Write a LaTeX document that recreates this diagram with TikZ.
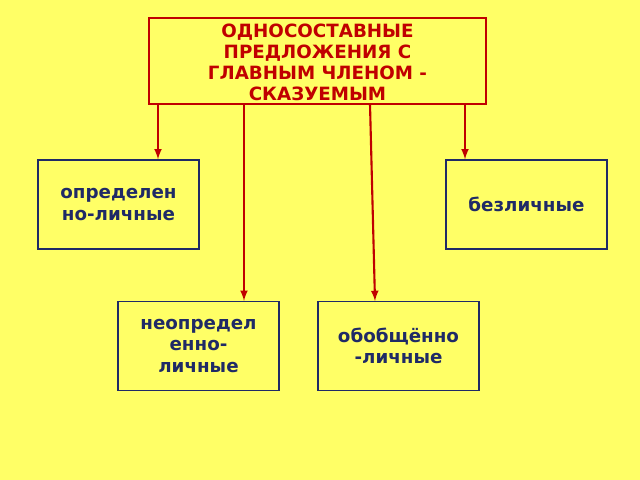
\documentclass[tikz,border=0pt]{standalone}
\usepackage{fontspec}
\setmainfont{DejaVu Sans}
\definecolor{bg}{HTML}{FFFF66}
\definecolor{hred}{HTML}{C00000}
\definecolor{navy}{HTML}{1F2A66}
\begin{document}
\begin{tikzpicture}[x=0.025cm,y=-0.025cm,font=\bfseries\fontsize{13}{15}\selectfont]
\tikzset{
% box styles: title and kinds
title box/.style={draw=hred,line width=1pt,text=hred,minimum width=337*0.025cm,minimum height=86*0.025cm,align=center,inner sep=0pt},
kind box/.style={draw=navy,line width=1pt,text=navy,minimum width=161*0.025cm,minimum height=89*0.025cm,align=center,inner sep=0pt},
link/.style={hred,line width=1.5pt,-latex}
}
\fill[bg] (0,0) rectangle (640,480);
\useasboundingbox (0,0) rectangle (640,480);

% The title
\node (title)[title box] at (317.5,61) {};
\node[text=hred,align=center] at (317.5,62) {ОДНОСОСТАВНЫЕ\\ПРЕДЛОЖЕНИЯ С\\ГЛАВНЫМ ЧЛЕНОМ -\\СКАЗУЕМЫМ};

% The kinds
\node (def)[kind box] at (118.5,204.5) {определен\\но-личные};
\node (imp)[kind box] at (526.5,204.5) {безличные};
\node (indef)[kind box] at (198.5,346) {неопредел\\енно-\\личные};
\node (gen)[kind box] at (398.5,346) {обобщённо\\-личные};

% links
\coordinate (t1) at (158,104); \coordinate (t2) at (244,104);
\coordinate (t3) at (370,104); \coordinate (t4) at (465,104);
\draw[link] (t1) -- (t1 |- def.north);
\draw[link] (t4) -- (t4 |- imp.north);
\draw[link] (t2) -- (t2 |- indef.north);
\draw[link] (t3) -- (375,301);
\end{tikzpicture}
\end{document}
